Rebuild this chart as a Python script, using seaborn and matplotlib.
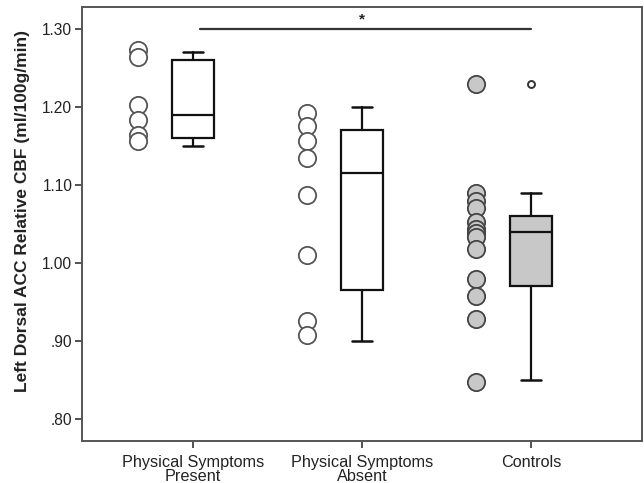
import numpy as np
import pandas as pd
import matplotlib
matplotlib.use("Agg")
import matplotlib.pyplot as plt
import seaborn as sns

# ---- data ----
categories = ["Physical Symptoms\nPresent", "Physical Symptoms\nAbsent", "Controls"]
present_vals = [1.273, 1.264, 1.203, 1.183, 1.164, 1.157]
absent_vals = [1.192, 1.175, 1.156, 1.135, 1.087, 1.010, 0.926, 0.908]
controls_vals = [1.229, 1.090, 1.080, 1.070, 1.052, 1.044, 1.038, 1.033,
                 1.018, 0.979, 0.958, 0.928, 0.848]

box_whisker_low = [1.15, 0.90, 0.85]
box_q1 = [1.16, 0.965, 0.97]
box_median = [1.19, 1.115, 1.04]
box_q3 = [1.26, 1.17, 1.06]
box_whisker_high = [1.27, 1.20, 1.09]
box_outliers = [[], [], [1.23]]

y_ticks = [0.80, 0.90, 1.00, 1.10, 1.20, 1.30]
y_tick_labels = [".80", ".90", "1.00", "1.10", "1.20", "1.30"]
sig_span = (0, 2)
sig_level = 1.30
sig_text = "*"
y_label = "Left Dorsal ACC Relative CBF (ml/100g/min)"

# ---- style ----
sns.set_style("white")
plt.rcParams["font.family"] = ["Liberation Sans", "DejaVu Sans"]

fig = plt.figure(figsize=(6.44, 4.83), dpi=100)
ax = fig.add_axes([82 / 644, 42 / 483, 560 / 644, 434 / 483])

point_offset = -0.325
fills = ["white", "white", "#c8c8c8"]
edges = ["#555555", "#555555", "#444444"]

rows = []
for i, vals in enumerate([present_vals, absent_vals, controls_vals]):
    for v in vals:
        rows.append({"group": i, "value": v})
df = pd.DataFrame(rows)
df["xpos"] = df["group"] + point_offset

for i in range(3):
    sub = df[df["group"] == i]
    sns.scatterplot(data=sub, x="xpos", y="value", ax=ax, s=155,
                    facecolor=fills[i], edgecolor=edges[i], linewidth=1.3,
                    zorder=3, legend=False)

# boxes
stats = []
for i in range(3):
    stats.append({"whislo": box_whisker_low[i], "q1": box_q1[i],
                  "med": box_median[i], "q3": box_q3[i],
                  "whishi": box_whisker_high[i], "fliers": box_outliers[i],
                  "label": categories[i]})
box_fill = ["white", "white", "#c8c8c8"]
bp = ax.bxp(stats, positions=[0, 1, 2], widths=0.25, patch_artist=True,
            capwidths=[0.12] * 3, showfliers=True,
            boxprops=dict(linewidth=1.6, edgecolor="#111111"),
            medianprops=dict(linewidth=1.6, color="#111111"),
            whiskerprops=dict(linewidth=1.6, color="#111111"),
            capprops=dict(linewidth=1.8, color="#111111"),
            flierprops=dict(marker="o", markersize=5, markerfacecolor="white",
                            markeredgecolor="#333333", markeredgewidth=1.4))
for patch, fc in zip(bp["boxes"], box_fill):
    patch.set_facecolor(fc)
    patch.set_zorder(2)

# significance line
ax.plot([sig_span[0] + 0.04, sig_span[1]], [sig_level, sig_level],
        color="#333333", linewidth=1.6, zorder=3)
ax.text((sig_span[0] + sig_span[1]) / 2, sig_level + 0.003, sig_text,
        ha="center", va="bottom", fontsize=11, fontweight="bold", color="#222222")

ax.set_xlim(-0.657, 2.657)
ax.set_ylim(0.7718, 1.3282)
ax.set_yticks(y_ticks)
ax.set_yticklabels(y_tick_labels, fontsize=11.2, color="#222222")
ax.set_xticks([0, 1, 2])
ax.set_xticklabels(categories, fontsize=11.7, color="#222222", linespacing=0.95)
ax.tick_params(axis="both", direction="out", length=5, width=1.2, color="#333333",
               bottom=True, left=True)
ax.tick_params(axis="y", pad=2)
ax.tick_params(axis="x", pad=5)
ax.set_xlabel("")
ax.set_ylabel(y_label, fontsize=12.5, fontweight="bold", color="#222222")
ax.yaxis.set_label_coords(-0.093, 0.53)

for sp in ax.spines.values():
    sp.set_visible(True)
    sp.set_color("#555555")
    sp.set_linewidth(1.4)

fig.savefig("out.png", dpi=100)
